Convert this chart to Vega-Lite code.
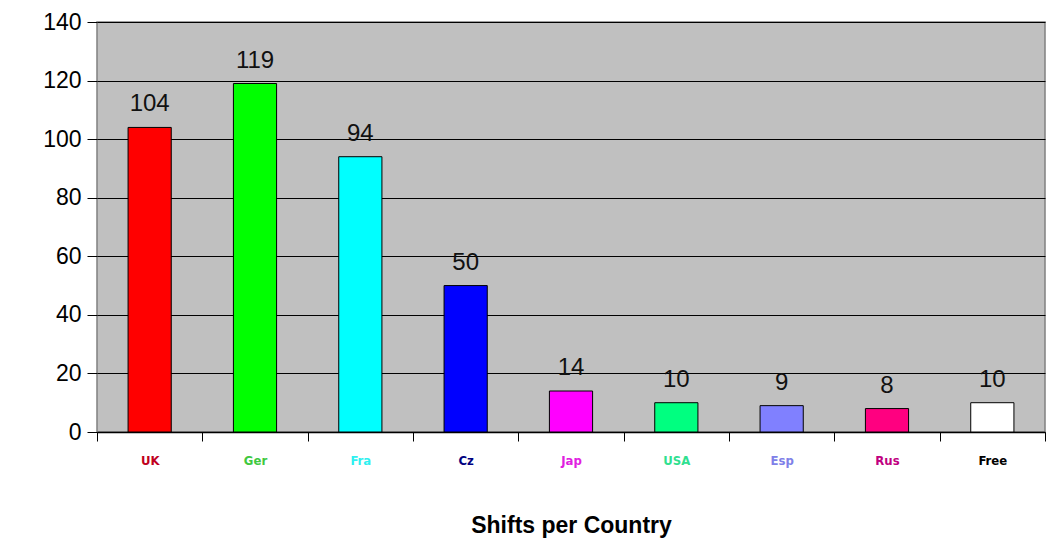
{
  "$schema": "https://vega.github.io/schema/vega-lite/v6.json",
  "autosize": "none",
  "width": 948,
  "height": 410,
  "padding": {"left": 97, "top": 22, "right": 8, "bottom": 128},
  "background": "white",
  "config": {
    "font": "Liberation Sans",
    "view": {"fill": "#C0C0C0", "stroke": "#808080", "strokeWidth": 1.5}
  },
  "data": {
    "values": [
      {"country": "UK", "shifts": 104},
      {"country": "Ger", "shifts": 119},
      {"country": "Fra", "shifts": 94},
      {"country": "Cz", "shifts": 50},
      {"country": "Jap", "shifts": 14},
      {"country": "USA", "shifts": 10},
      {"country": "Esp", "shifts": 9},
      {"country": "Rus", "shifts": 8},
      {"country": "Free", "shifts": 10}
    ]
  },
  "encoding": {
    "x": {
      "field": "country",
      "type": "nominal",
      "sort": null,
      "scale": {"paddingInner": 0, "paddingOuter": 0},
      "axis": {
        "title": "Shifts per Country",
        "titleFont": "Liberation Sans",
        "titleFontSize": 23,
        "titleFontWeight": "bold",
        "titleColor": "#000000",
        "titlePadding": 47,
        "labelAngle": 0,
        "labelFont": "DejaVu Sans Condensed",
        "labelFontSize": 13,
        "labelFontWeight": 600,
        "labelPadding": 13,
        "labelColor": {"expr": "{'UK':'#C00020','Ger':'#40C840','Fra':'#30F0F0','Cz':'#000080','Jap':'#E020E0','USA':'#30E090','Esp':'#8080E8','Rus':'#C00080','Free':'#000000'}[datum.value]"},
        "tickBand": "extent",
        "tickColor": "#000000",
        "tickSize": 9,
        "domainColor": "#000000",
        "domainWidth": 1.5
      }
    },
    "y": {
      "field": "shifts",
      "type": "quantitative",
      "scale": {"domain": [0, 140], "nice": false},
      "axis": {
        "title": null,
        "values": [0, 20, 40, 60, 80, 100, 120, 140],
        "labelFont": "Liberation Sans",
        "labelFontSize": 23,
        "labelColor": "#000000",
        "labelPadding": 6,
        "tickColor": "#000000",
        "tickSize": 10,
        "domain": false,
        "grid": true,
        "gridColor": "#000000",
        "gridWidth": 1,
        "gridOpacity": 1
      }
    }
  },
  "layer": [
    {
      "mark": {"type": "bar", "width": {"band": 0.41}, "stroke": "#000000", "strokeWidth": 1},
      "encoding": {
        "color": {
          "field": "country",
          "type": "nominal",
          "sort": null,
          "scale": {
            "domain": ["UK", "Ger", "Fra", "Cz", "Jap", "USA", "Esp", "Rus", "Free"],
            "range": ["#FF0000", "#00FF00", "#00FFFF", "#0000FF", "#FF00FF", "#00FF80", "#8080FF", "#FF0080", "#FFFFFF"]
          },
          "legend": null
        }
      }
    },
    {
      "mark": {"type": "text", "baseline": "alphabetic", "dy": -16, "fontSize": 24, "font": "Liberation Sans", "color": "#111111"},
      "encoding": {"text": {"field": "shifts", "type": "quantitative"}}
    }
  ]
}
